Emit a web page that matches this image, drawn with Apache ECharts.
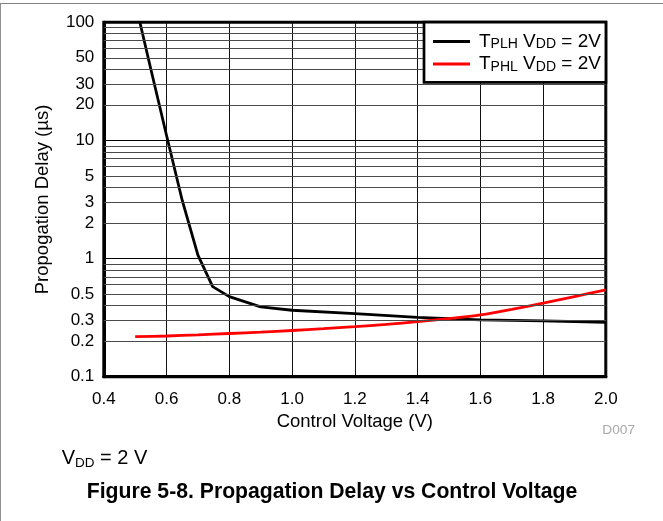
<!DOCTYPE html>
<html>
<head>
<meta charset="utf-8">
<script src="https://cdn.jsdelivr.net/npm/echarts@6/dist/echarts.min.js"></script>
<style>
  html, body { margin: 0; padding: 0; background: #fff; }
  #wrap { position: relative; width: 663px; height: 521px; overflow: hidden; }
  #frame { position: absolute; left: 0; top: 3px; width: 663px; height: 518px;
           border-top: 1.6px solid #808080; border-left: 1px solid #909090; box-sizing: border-box; }
  #chart { position: absolute; left: 0; top: 0; width: 663px; height: 521px; }
</style>
</head>
<body>
<div id="wrap">
  <div id="frame"></div>
  <div id="chart"></div>
</div>
<script>
// ---- data ----
const plhX = [0.515, 0.55, 0.6, 0.65, 0.7, 0.747, 0.8, 0.9, 1.0, 1.2, 1.4, 1.6, 1.8, 2.0];
const plhY = [100, 40, 11, 3.1, 1.07, 0.578, 0.476, 0.39, 0.365, 0.342, 0.318, 0.303, 0.297, 0.289];

const phlX = [0.5, 0.6, 0.7, 0.8, 0.9, 1.0, 1.1, 1.2, 1.3, 1.4, 1.5, 1.6, 1.7, 1.8, 1.9, 2.0];
const phlY = [0.218, 0.221, 0.226, 0.232, 0.238, 0.246, 0.255, 0.265, 0.277, 0.292, 0.31, 0.333, 0.372, 0.419, 0.477, 0.543];

const seriesNames = ['TPLH', 'TPHL'];
const seriesColors = ['#000000', '#ff0000'];

const xMin = 0.4, xMax = 2.0, xStep = 0.2;
const yMin = 0.1, yMax = 100;
const yMinorGrid = [0.2, 0.3, 0.4, 0.5, 0.6, 0.7, 0.8, 0.9,
                    2, 3, 4, 5, 6, 7, 8, 9,
                    20, 30, 40, 50, 60, 70, 80, 90];
const yExtraLabels = [0.2, 0.3, 0.5, 2, 3, 5, 20, 30, 50];

const FONT = '"Liberation Sans", Arial, Helvetica, sans-serif';

const chart = echarts.init(document.getElementById('chart'), null, { renderer: 'canvas' });

function zip(xs, ys) { return xs.map((x, i) => [x, ys[i]]); }

const legendRich = {
  m: { fontFamily: FONT, fontSize: 19, color: '#000', lineHeight: 20 },
  s: { fontFamily: FONT, fontSize: 14, color: '#000', lineHeight: 20, verticalAlign: 'bottom' }
};

const option = {
  animation: false,
  backgroundColor: 'transparent',
  grid: {
    left: 103.8, right: 57.2, top: 22.2, bottom: 144.3,
    show: true, borderColor: '#000', borderWidth: 3, backgroundColor: 'transparent'
  },
  xAxis: {
    type: 'value', min: xMin, max: xMax, interval: xStep,
    name: 'Control Voltage (V)', nameLocation: 'middle', nameGap: 34,
    nameTextStyle: { fontFamily: FONT, fontSize: 18.5, color: '#000' },
    axisLine: { show: true, lineStyle: { color: '#000', width: 3 } },
    axisTick: { show: false },
    axisLabel: { fontFamily: FONT, fontSize: 17, color: '#000', margin: 14,
                 formatter: v => v.toFixed(1) },
    splitLine: { show: true, lineStyle: { color: '#111', width: 1 } }
  },
  yAxis: {
    type: 'log', logBase: 10, min: yMin, max: yMax,
    name: 'Propogation Delay (\u00b5s)', nameLocation: 'middle', nameGap: 51,
    nameTextStyle: { fontFamily: FONT, fontSize: 18.5, color: '#000' },
    axisLine: { show: true, lineStyle: { color: '#000', width: 3 } },
    axisTick: { show: false },
    axisLabel: { fontFamily: FONT, fontSize: 17, color: '#000', margin: 9.5,
                 formatter: v => (v >= 1 ? String(Math.round(v)) : String(+v.toFixed(1))) },
    splitLine: { show: true, lineStyle: { color: '#000', width: 1 } }
  },
  legend: {
    data: seriesNames,
    orient: 'vertical',
    left: 424, top: 22.2,
    padding: [9.8, 5, 8.3, 9],
    itemWidth: 37, itemHeight: 3,
    itemGap: 3,
    icon: 'rect',
    z: 10,
    backgroundColor: '#fff',
    borderColor: '#000',
    borderWidth: 2.7,
    textStyle: { fontFamily: FONT, fontSize: 19, color: '#000', padding: [0, 0, 0, 4],
                 width: 126, rich: legendRich },
    formatter: function (name) {
      if (name === 'TPLH') return '{m|T}{s|PLH}{m| V}{s|DD}{m| = 2V}';
      return '{m|T}{s|PHL}{m| V}{s|DD}{m| = 2V}';
    }
  },
  graphic: [
    { type: 'text', x: 602.3, y: 430, z: 5,
      style: { text: 'D007', font: '13.7px ' + FONT, fill: '#a8a8a8', textAlign: 'left', textVerticalAlign: 'middle' } },
    { type: 'text', x: 61.7, y: 458.3, z: 5,
      style: { text: '{m|V}{s|DD}{m| = 2 V}', textAlign: 'left', textVerticalAlign: 'middle',
               rich: {
                 m: { fontFamily: FONT, fontSize: 20, fill: '#000', lineHeight: 24 },
                 s: { fontFamily: FONT, fontSize: 13.5, fill: '#000', lineHeight: 24, verticalAlign: 'bottom' }
               } } },
    { type: 'text', x: 332, y: 491.7, z: 5,
      style: { text: 'Figure 5-8. Propagation Delay vs Control Voltage',
               font: 'bold 21.2px ' + FONT, fill: '#000', textAlign: 'center', textVerticalAlign: 'middle' } }
  ],
  series: [
    {
      name: 'grid-minor', type: 'line', data: [], z: 1, silent: true,
      markLine: {
        silent: true, symbol: ['none', 'none'], animation: false,
        lineStyle: { color: '#4a4a4a', width: 1, type: 'solid' },
        label: { show: false },
        emphasis: { disabled: true },
        data: yMinorGrid.map(v => ({
          yAxis: v,
          label: {
            show: yExtraLabels.indexOf(v) >= 0,
            position: 'start', distance: 9.5,
            formatter: String(v),
            fontFamily: FONT, fontSize: 17, color: '#000'
          }
        }))
      }
    },
    {
      name: seriesNames[0], type: 'line', z: 3,
      data: zip(plhX, plhY), showSymbol: false, symbol: 'none', smooth: false,
      lineStyle: { color: seriesColors[0], width: 2.8 }, itemStyle: { color: seriesColors[0] }
    },
    {
      name: seriesNames[1], type: 'line', z: 3,
      data: zip(phlX, phlY), showSymbol: false, symbol: 'none', smooth: 0.3,
      lineStyle: { color: seriesColors[1], width: 2.8 }, itemStyle: { color: seriesColors[1] }
    }
  ]
};

chart.setOption(option);
</script>
</body>
</html>
